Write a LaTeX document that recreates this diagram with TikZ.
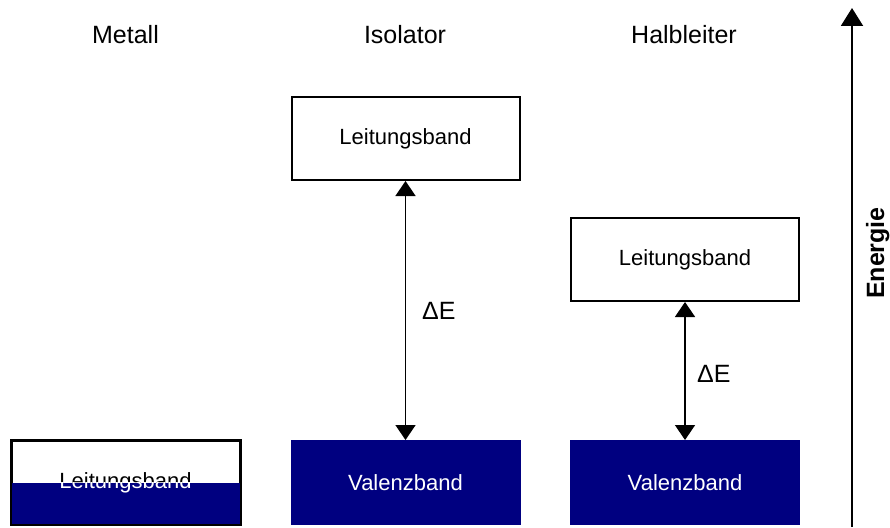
\documentclass[tikz,border=0pt]{standalone}
\usepackage{fontspec}
\setmainfont{Liberation Sans}
\usepackage{tikz}
\usetikzlibrary{arrows.meta}
\definecolor{navy}{RGB}{0,0,128}

\begin{document}
\begin{tikzpicture}
  [
    x=1pt, y=-1pt,
    Band/.style={rectangle, draw=black, line width=2pt, fill=white, inner sep=0pt,
      minimum width=228pt, minimum height=83pt, font=\fontsize{22}{26}\selectfont},
    Valenz/.style={Band, draw=navy, line width=1pt, fill=navy, text=white,
      minimum width=229pt, minimum height=84pt},
    Title/.style={anchor=base, inner sep=0pt, font=\fontsize{25}{30}\selectfont},
    Gap/.style={anchor=west, inner sep=0pt, font=\fontsize{25}{30}\selectfont},
    Pfeil/.style={{Triangle[width=20pt,length=15pt]}-{Triangle[width=20pt,length=15pt]}, line width=1.5pt}
  ]
  \useasboundingbox (0,0) rectangle (890,527);
  % Titles
  \node[Title] (tMetall) at (125.5,44) {Metall};
  \node[Title] (tIsolator) at (405,44) {Isolator};
  \node[Title] (tHalbleiter) at (684,44) {Halbleiter};
  % Nodes
  \node[Band] (metall) at (125.5,482.5) {};
  \fill[navy] (metall.west) rectangle (metall.south east);
  \begin{scope}
    \clip (metall.north west) rectangle (metall.east);
    \node[font=\fontsize{22}{26}\selectfont, text=black] (metallOben) at (metall) {Leitungsband};
  \end{scope}
  \begin{scope}
    \clip (metall.west) rectangle (metall.south east);
    \node[font=\fontsize{22}{26}\selectfont, text=white] (metallUnten) at (metall) {Leitungsband};
  \end{scope}
  \draw[line width=2pt] (metall.north west) rectangle (metall.south east);
  \node[Band] (isoLB) at (405.5,138.5) {Leitungsband};
  \node[Valenz] (isoVB) at (405.5,482.5) {Valenzband};
  \node[Band] (halbLB) at (685,259.5) {Leitungsband};
  \node[Valenz] (halbVB) at (685,482.5) {Valenzband};
  \node[Gap] (isoGap) at (422,311) {ΔE};
  \node[Gap] (halbGap) at (697,374) {ΔE};
  % Energy axis
  \coordinate (achseUnten) at (852,527);
  \coordinate (achseOben) at (852,8);
  \node[rotate=90, anchor=base, inner sep=0pt, font=\bfseries\fontsize{25}{30}\selectfont] (energie) at (884,253) {Energie};
  % Lines
  \path [Pfeil, draw] (isoLB.south) -- (isoVB.north);
  \path [Pfeil, draw] (halbLB.south) -- (halbVB.north);
  \path [-{Triangle[width=22pt,length=18pt]}, draw, line width=2pt] (achseUnten) -- (achseOben);
\end{tikzpicture}
\end{document}
